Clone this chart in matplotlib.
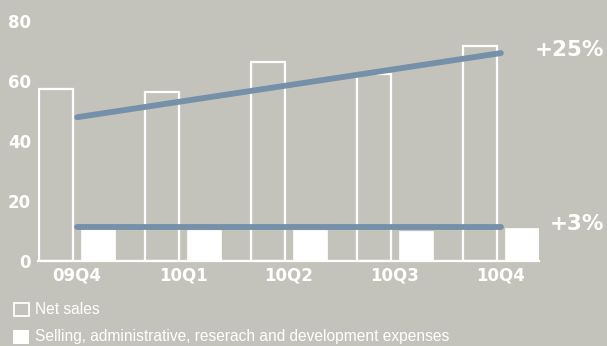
# -*- coding:utf-8 -*-
import matplotlib
matplotlib.use("Agg")
import matplotlib.pyplot as plt
from matplotlib.patches import Rectangle

# ---------------- data ----------------
quarters = ["09Q4", "10Q1", "10Q2", "10Q3", "10Q4"]
net_sales = [57.1, 56.3, 66.3, 62.1, 71.6]
expenses = [10.4, 10.2, 10.2, 10.0, 10.9]

# trend lines (start / end value) and their labels
sales_trend = [47.8, 69.2]
expense_trend = [11.2, 11.2]
sales_label = "+25%"
expense_label = "+3%"

yticks = [0, 20, 40, 60, 80]
legend_labels = ["Net sales",
                 "Selling, administrative, reserach and development expenses"]
# ---------------------------------------

BG = "#c4c3bb"
LINE = "#7590a8"
WHITE = "white"

plt.rcParams['font.family'] = ['DejaVu Sans']


def main():
    fig = plt.figure(figsize=(6.07, 3.46), dpi=100)
    fig.patch.set_facecolor(BG)

    W, H = 607.0, 346.0
    ax = fig.add_axes([38 / W, 85.5 / H, 501 / W, 239.8 / H])
    ax.set_facecolor(BG)

    x = list(range(len(quarters)))
    off = 0.2
    bw = 0.32

    ax.bar([i - off for i in x], net_sales, width=bw,
           facecolor="none", edgecolor=WHITE, linewidth=1.6, zorder=2)
    ax.bar([i + off for i in x], expenses, width=bw,
           facecolor=WHITE, edgecolor=WHITE, linewidth=0.5, zorder=2)

    ax.plot([x[0], x[-1]], sales_trend, color=LINE, lw=4.2,
            solid_capstyle="round", zorder=3)
    ax.plot([x[0], x[-1]], expense_trend, color=LINE, lw=4.2,
            solid_capstyle="round", zorder=3)

    ax.set_xlim(-0.37, 4.36)
    ax.set_ylim(0, 80)
    ax.set_yticks(yticks)
    ax.set_xticks(x)
    ax.set_xticklabels(quarters)

    for s in ["left", "right", "top"]:
        ax.spines[s].set_visible(False)
    ax.spines["bottom"].set_color(WHITE)
    ax.spines["bottom"].set_linewidth(1.6)

    ax.tick_params(axis="both", length=0, colors=WHITE, labelsize=12)
    ax.tick_params(axis="y", pad=5)
    ax.tick_params(axis="x", pad=4)
    for lbl in ax.get_xticklabels() + ax.get_yticklabels():
        lbl.set_fontweight("bold")

    # labels at end of the trend lines
    fig.text(604 / W, 1 - 50 / H, sales_label, color=WHITE, fontsize=15.5,
             fontweight="bold", ha="right", va="center")
    fig.text(604 / W, 1 - 224 / H, expense_label, color=WHITE, fontsize=15.5,
             fontweight="bold", ha="right", va="center")

    # legend drawn by hand (two rows under the axis)
    fig.patches.append(Rectangle((13.5 / W, 1 - 316 / H), 15 / W, 13.5 / H,
                                 transform=fig.transFigure, facecolor="none",
                                 edgecolor=WHITE, linewidth=1.3))
    fig.patches.append(Rectangle((13 / W, 1 - 344 / H), 16 / W, 14.5 / H,
                                 transform=fig.transFigure, facecolor=WHITE,
                                 edgecolor="none"))
    fig.text(35 / W, 1 - 309 / H, legend_labels[0], color=WHITE,
             fontsize=11.2, family="Liberation Sans", ha="left", va="center")
    fig.text(35 / W, 1 - 337 / H, legend_labels[1], color=WHITE,
             fontsize=11.2, family="Liberation Sans", ha="left", va="center")

    fig.savefig("out.png", dpi=100, facecolor=BG)


if __name__ == '__main__':
    main()
